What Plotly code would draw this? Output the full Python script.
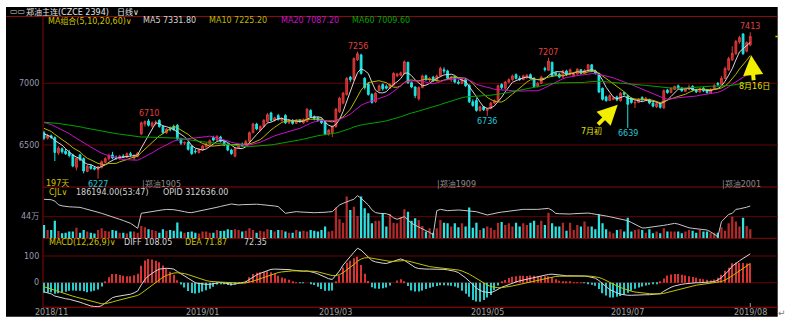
import pandas as pd
import plotly.graph_objects as go

W, H = 786, 326

# ---- daily bars, 郑油主连 (CZCE 2394) ----
bar_open = [
    6600, 6555, 6575, 6560, 6435, 6470, 6450, 6440, 6420, 6320,
    6420, 6390, 6285, 6330, 6315, 6300, 6320, 6360, 6390, 6420,
    6400, 6390, 6410, 6400, 6430, 6395, 6410, 6590, 6670, 6695,
    6655, 6680, 6700, 6650, 6600, 6630, 6650, 6660, 6550, 6515,
    6520, 6490, 6450, 6440, 6460, 6485, 6505, 6560, 6540, 6565,
    6530, 6505, 6460, 6410, 6480, 6500, 6500, 6530, 6600, 6670,
    6620, 6650, 6690, 6760, 6700, 6740, 6700, 6740, 6680, 6700,
    6675, 6700, 6680, 6690, 6780, 6730, 6720, 6705, 6690, 6590,
    6600, 6650, 6770, 6840, 6910, 7050, 7030, 7190, 7230, 7040,
    6995, 6910, 6850, 6940, 6990, 6975, 6960, 6985, 7060, 7065,
    7080, 7170, 7005, 6970, 6875, 6965, 7060, 7030, 7050, 7020,
    7060, 7110, 7100, 7030, 7050, 7010, 7000, 7030, 6985, 6850,
    6860, 6780, 6810, 6780, 6795, 6840, 6860, 6990, 6960, 7010,
    7030, 7070, 7040, 7030, 7045, 7070, 7040, 6975, 7000, 7120,
    7105, 7170, 7085, 7075, 7050, 7100, 7070, 7060, 7075, 7110,
    7080, 7100, 7150, 7100, 7080, 6960, 6890, 6860, 6870, 6890,
    6860, 6925, 6900, 6880, 6840, 6845, 6885, 6860, 6870, 6840,
    6810, 6835, 6800, 6945, 6925, 6950, 6980, 6960, 6935, 6950,
    6975, 6950, 6930, 6960, 6945, 6920, 6950, 7000, 6990, 7040,
    7110, 7190, 7240, 7335, 7400, 7260, 7310,
]
bar_high = [
    6615, 6590, 6585, 6570, 6490, 6480, 6470, 6460, 6430, 6400,
    6430, 6400, 6340, 6345, 6330, 6330, 6375, 6400, 6430, 6445,
    6415, 6420, 6425, 6440, 6445, 6425, 6445, 6690, 6700, 6710,
    6690, 6700, 6708, 6660, 6640, 6650, 6665, 6670, 6560, 6530,
    6530, 6500, 6470, 6470, 6500, 6515, 6545, 6575, 6580, 6575,
    6540, 6515, 6470, 6480, 6510, 6520, 6540, 6610, 6680, 6680,
    6660, 6710, 6760, 6770, 6730, 6750, 6725, 6750, 6710, 6710,
    6710, 6710, 6715, 6800, 6790, 6740, 6730, 6715, 6700, 6630,
    6660, 6800, 6890, 6930, 7050, 7060, 7210, 7256, 7240, 7050,
    7010, 6920, 6930, 6990, 7000, 6990, 7000, 7090, 7085, 7095,
    7185, 7175, 7015, 6975, 6975, 7070, 7070, 7050, 7060, 7070,
    7135, 7130, 7110, 7060, 7060, 7030, 7040, 7040, 6990, 6870,
    6880, 6820, 6815, 6800, 6850, 6870, 6990, 7000, 7020, 7040,
    7070, 7080, 7060, 7070, 7075, 7080, 7050, 7010, 7060, 7135,
    7207, 7175, 7090, 7085, 7110, 7110, 7120, 7090, 7120, 7115,
    7115, 7155, 7155, 7110, 7085, 6965, 6900, 6910, 6895, 6900,
    6930, 6930, 6910, 6885, 6870, 6880, 6895, 6890, 6875, 6850,
    6845, 6840, 6950, 6955, 6965, 6980, 6990, 6970, 6965, 6990,
    6985, 6955, 6965, 6970, 6955, 6960, 6995, 7010, 7060, 7135,
    7215, 7300, 7350, 7385, 7405, 7340, 7413,
]
bar_low = [
    6540, 6545, 6548, 6370, 6420, 6430, 6420, 6400, 6320, 6295,
    6370, 6270, 6280, 6300, 6295, 6227, 6310, 6350, 6375, 6385,
    6380, 6380, 6395, 6395, 6405, 6375, 6400, 6580, 6650, 6650,
    6640, 6660, 6640, 6590, 6590, 6610, 6615, 6540, 6500, 6500,
    6455, 6420, 6430, 6430, 6455, 6480, 6500, 6530, 6535, 6520,
    6490, 6450, 6420, 6400, 6470, 6485, 6495, 6520, 6595, 6620,
    6610, 6640, 6680, 6690, 6690, 6700, 6690, 6670, 6670, 6665,
    6670, 6680, 6670, 6685, 6720, 6700, 6690, 6670, 6580, 6575,
    6565, 6640, 6760, 6830, 6900, 7010, 7020, 7180, 7070, 6950,
    6900, 6835, 6840, 6935, 6940, 6950, 6955, 6980, 7050, 7060,
    7070, 6995, 6960, 6880, 6860, 6960, 7020, 7010, 7010, 7015,
    7050, 7080, 7030, 7010, 7000, 6990, 6995, 6970, 6840, 6810,
    6770, 6770, 6775, 6736, 6790, 6830, 6850, 6950, 6950, 7000,
    7020, 7030, 7020, 7025, 7040, 7035, 6965, 6965, 6995, 7095,
    7100, 7050, 7060, 7040, 7045, 7060, 7065, 7055, 7070, 7070,
    7075, 7095, 7090, 7070, 6920, 6860, 6850, 6855, 6865, 6855,
    6850, 6900, 6639, 6835, 6800, 6840, 6860, 6855, 6830, 6805,
    6800, 6795, 6795, 6915, 6920, 6945, 6950, 6930, 6930, 6945,
    6935, 6920, 6925, 6930, 6915, 6915, 6945, 6975, 6985, 7035,
    7100, 7180, 7230, 7320, 7230, 7250, 7300,
]
bar_close = [
    6555, 6575, 6560, 6440, 6475, 6445, 6430, 6415, 6330, 6395,
    6380, 6290, 6330, 6310, 6305, 6325, 6365, 6390, 6415, 6395,
    6390, 6410, 6400, 6430, 6420, 6415, 6435, 6680, 6690, 6660,
    6680, 6685, 6650, 6600, 6630, 6625, 6625, 6550, 6515, 6520,
    6465, 6430, 6445, 6465, 6490, 6510, 6535, 6540, 6570, 6530,
    6500, 6460, 6430, 6470, 6500, 6495, 6530, 6600, 6670, 6630,
    6650, 6700, 6745, 6700, 6720, 6705, 6715, 6680, 6700, 6675,
    6700, 6690, 6705, 6790, 6730, 6715, 6700, 6680, 6590, 6620,
    6650, 6790, 6880, 6920, 7040, 7030, 7200, 7240, 7080, 6965,
    6910, 6845, 6920, 6980, 6955, 6960, 6990, 7080, 7075, 7085,
    7175, 7005, 6970, 6900, 6965, 7060, 7030, 7040, 7020, 7060,
    7120, 7100, 7040, 7050, 7010, 7000, 7030, 6980, 6850, 6820,
    6780, 6810, 6785, 6790, 6840, 6860, 6980, 6965, 7010, 7030,
    7060, 7040, 7030, 7060, 7065, 7040, 6975, 7000, 7050, 7110,
    7180, 7060, 7070, 7050, 7100, 7070, 7110, 7075, 7115, 7080,
    7105, 7150, 7100, 7080, 6930, 6870, 6860, 6900, 6880, 6865,
    6920, 6910, 6830, 6845, 6845, 6870, 6865, 6880, 6840, 6815,
    6835, 6805, 6940, 6925, 6960, 6975, 6962, 6940, 6955, 6970,
    6945, 6930, 6955, 6940, 6925, 6950, 6982, 6990, 7040, 7120,
    7200, 7243, 7340, 7370, 7240, 7330, 7379,
]
# closes of the sessions before the first bar; they feed the moving averages
close_earlier = [
    6650, 6665, 6680, 6690, 6672, 6660, 6648, 6655, 6670, 6685,
    6700, 6688, 6675, 6662, 6670, 6681, 6694, 6702, 6690, 6678,
    6665, 6672, 6688, 6700, 6712, 6705, 6696, 6684, 6690, 6702,
    6715, 6708, 6695, 6683, 6676, 6688, 6699, 6710, 6722, 6718,
    6725, 6738, 6745, 6732, 6720, 6728, 6740, 6735, 6722, 6715,
    6700, 6690, 6676, 6668, 6666, 6640, 6615, 6590, 6552,
]
# 成交量 (contracts)
volume = [
    272000, 170000, 170000, 360000, 150000, 102000, 115000, 136000, 136000, 217000,
    115000, 170000, 136000, 115000, 100000, 170000, 204000, 150000, 136000, 170000,
    156000, 115000, 115000, 100000, 136000, 136000, 115000, 250000, 224000, 183000,
    170000, 150000, 115000, 183000, 156000, 170000, 156000, 320000, 136000, 115000,
    129000, 136000, 115000, 100000, 136000, 136000, 115000, 115000, 170000, 150000,
    156000, 183000, 170000, 183000, 170000, 136000, 156000, 204000, 170000, 115000,
    156000, 136000, 183000, 170000, 136000, 170000, 170000, 136000, 115000, 115000,
    170000, 136000, 156000, 136000, 170000, 156000, 136000, 170000, 238000, 136000,
    156000, 625000, 387000, 319000, 849000, 577000, 645000, 455000, 849000, 611000,
    509000, 306000, 360000, 360000, 509000, 238000, 496000, 319000, 306000, 428000,
    590000, 543000, 360000, 407000, 373000, 251000, 136000, 204000, 115000, 204000,
    373000, 319000, 306000, 238000, 306000, 224000, 306000, 238000, 625000, 217000,
    319000, 170000, 204000, 238000, 217000, 170000, 319000, 333000, 272000, 306000,
    238000, 319000, 238000, 306000, 272000, 319000, 360000, 272000, 360000, 272000,
    523000, 306000, 238000, 238000, 319000, 156000, 319000, 170000, 272000, 238000,
    340000, 238000, 238000, 183000, 489000, 306000, 183000, 136000, 102000, 170000,
    183000, 136000, 421000, 136000, 170000, 183000, 170000, 115000, 183000, 102000,
    136000, 102000, 204000, 136000, 136000, 136000, 136000, 102000, 136000, 170000,
    156000, 115000, 170000, 136000, 136000, 115000, 115000, 115000, 224000, 156000,
    306000, 441000, 340000, 238000, 421000, 251000, 186194,
]
# 持仓量 (OPID)
open_interest = [
    341300, 340800, 339600, 333500, 318000, 313200, 310500, 309200, 308400, 307600,
    306800, 302400, 299100, 295600, 290300, 285800, 281200, 275400, 269800, 264600,
    260100, 255700, 250400, 244900, 238600, 228300, 216900, 281400, 284100, 286800,
    290500, 292800, 294600, 296200, 297900, 298500, 296800, 294100, 292800, 288300,
    285100, 284200, 287600, 290400, 292800, 296200, 300100, 303800, 307000, 310800,
    314900, 318600, 321300, 319200, 317000, 318400, 319600, 320700, 321300, 320200,
    319100, 318000, 317000, 314800, 312600, 310000, 296000, 281400, 283800, 286200,
    288500, 287100, 285600, 284200, 283500, 284000, 284600, 284200, 285700, 287300,
    288500, 302700, 317000, 324100, 331300, 336400, 341300, 357000, 345600, 331300,
    317000, 296000, 284300, 281400, 280500, 279600, 274100, 262000, 255700, 261300,
    267000, 253000, 239000, 230400, 221500, 214300, 207100, 200000, 188600, 292500,
    298200, 295400, 292500, 293700, 295000, 295400, 294300, 292800, 292500, 290400,
    288200, 283500, 278700, 274000, 277300, 282000, 284000, 286400, 288900, 291300,
    292500, 294400, 296300, 298200, 298200, 297500, 298200, 298200, 299600, 301100,
    302500, 293900, 281100, 279600, 278200, 276800, 278200, 279600, 281100, 282500,
    284000, 282400, 280000, 278200, 275300, 272500, 269700, 266700, 263700, 260600,
    257800, 255400, 249800, 242300, 235000, 227500, 218600, 219200, 220800, 222600,
    224000, 226900, 229800, 232500, 235600, 238300, 235200, 229500, 224700, 219400,
    217000, 215500, 214000, 212000, 209800, 202000, 191500, 181300, 245400, 263000,
    276500, 281100, 298200, 300500, 302500, 307400, 312636,
]
# MACD(12,26,9)
macd_diff = [
    -34, -38, -42, -50, -54, -57, -60, -62, -65, -69,
    -73, -78, -84, -87, -89, -90, -86, -77, -66, -56,
    -52, -50, -48, -46, -43, -38, -31, -8, 12, 26,
    36, 44, 51, 53, 54, 53, 51, 42, 33, 25,
    15, 6, 0, -3, -5, -6, -6, -4, -1, 1,
    -1, -4, -6, -5, -3, -1, 3, 12, 22, 29,
    35, 41, 47, 50, 51, 51, 50, 50, 49, 47,
    45, 44, 43, 44, 42, 38, 33, 26, 19, 15,
    12, 28, 44, 66, 84, 98, 114, 129, 122, 110,
    97, 83, 78, 75, 73, 72, 75, 80, 85, 89,
    84, 75, 63, 57, 53, 51, 51, 51, 51, 51,
    51, 50, 48, 46, 43, 38, 29, 18, 6, -8,
    -20, -29, -34, -36, -37, -32, -24, -17, -12, -6,
    -1, 3, 7, 10, 13, 17, 20, 22, 25, 28,
    31, 32, 30, 28, 26, 26, 26, 26, 26, 26,
    25, 23, 20, 17, 8, -5, -15, -26, -33, -38,
    -43, -46, -47, -47, -46, -46, -46, -45, -45, -44,
    -44, -41, -32, -23, -17, -12, -8, -6, -4, -2,
    -1, 0, 0, 1, 1, 1, 4, 10, 19, 32,
    45, 62, 73, 82, 91, 99, 108.05,
]
macd_dea = [
    -15, -19.6, -24.1, -29.3, -34.2, -38.8, -43.0, -46.8, -50.4, -54.1,
    -57.9, -61.9, -66.3, -70.4, -74.1, -77.3, -79.0, -78.6, -76.1, -72.1,
    -68.1, -64.5, -61.2, -58.2, -55.2, -51.8, -47.6, -39.7, -29.4, -18.3,
    -7.4, 2.9, 12.5, 20.6, 27.3, 32.4, 36.1, 37.3, 36.4, 34.1,
    30.3, 25.4, 20.3, 15.6, 11.5, 8.0, 5.2, 3.4, 2.5, 2.2,
    1.6, 0.5, -0.8, -1.6, -1.9, -1.7, -0.8, 1.8, 5.8, 10.4,
    15.3, 20.4, 25.7, 30.6, 34.7, 38.0, 40.4, 42.3, 43.6, 44.3,
    44.4, 44.3, 44.0, 44.0, 43.6, 42.5, 40.6, 37.7, 34.0, 30.2,
    26.6, 26.9, 30.3, 37.4, 46.7, 57.0, 68.4, 80.5, 88.8, 93.0,
    93.8, 91.6, 88.9, 86.1, 83.5, 81.2, 80.0, 80.0, 81.0, 82.6,
    82.9, 81.3, 77.6, 73.5, 69.4, 65.7, 62.8, 60.4, 58.5, 57.0,
    55.8, 54.6, 53.3, 51.8, 50.0, 47.6, 43.9, 38.7, 32.2, 24.2,
    15.4, 6.5, -1.6, -8.5, -14.2, -17.8, -19.0, -18.6, -17.3, -15.0,
    -12.2, -9.2, -6.0, -2.8, 0.4, 3.7, 7.0, 10.0, 13.0, 16.0,
    19.0, 21.6, 23.3, 24.2, 24.6, 24.9, 25.1, 25.3, 25.4, 25.5,
    25.4, 24.9, 23.9, 22.5, 19.6, 14.7, 8.8, 1.8, -5.2, -11.8,
    -18.0, -23.6, -28.3, -32.0, -34.8, -37.0, -38.8, -40.0, -41.0, -41.6,
    -42.1, -41.9, -39.9, -36.5, -32.6, -28.5, -24.4, -20.7, -17.4, -14.3,
    -11.6, -9.3, -7.4, -5.7, -4.4, -3.3, -1.8, 0.6, 4.3, 9.8,
    16.8, 25.8, 35.2, 44.6, 53.9, 62.9, 71.874,
]

date_labels = ["2018/11", "2019/01", "2019/03", "2019/05", "2019/07", "2019/08"]
date_label_bars = [2, 44, 81, 123, 162, 196]
contract_names = ["郑油1905", "郑油1909", "郑油2001"]
contract_start_bars = [27, 109, 188]
high_mark_bars = [29, 87, 140, 196]
low_mark_bars = [15, 123, 162]
price_ticks = [7000, 6500]
volume_tick, volume_tick_text = 440000, "44万"
macd_ticks = [100, 0]
ma_periods = [5, 10, 20, 60]

n_bars = len(bar_close)
for series in (bar_open, bar_high, bar_low, volume, open_interest, macd_diff, macd_dea):
    assert len(series) == n_bars, len(series)
bars = list(range(n_bars))

closes_all = pd.Series(close_earlier + bar_close, dtype=float)
ma_lines = {p: closes_all.rolling(p).mean().iloc[len(close_earlier):].tolist() for p in ma_periods}
macd_bar = [2 * (d - e) for d, e in zip(macd_diff, macd_dea)]

# ---- colours / fonts ----
UP_LINE, UP_FILL, DOWN = "#e03a3a", "#b72626", "#1ee4e4"
VOL_UP, VOL_DOWN = "#b32a2a", "#2fe2e2"
GRID, FRAME = "#640606", "#8a0a0a"
AXIS_TXT = "#9a9ab0"
YELLOW = "#d0c400"
MA_COLORS = ["#d6d6d6", "#b9b900", "#cc10cc", "#00a400"]
FONT = "DejaVu Sans, Noto Sans CJK SC, sans-serif"


def px(x):
    return x / W


def py(y):
    return 1 - y / H


fig = go.Figure()

fig.add_trace(go.Candlestick(
    x=bars, open=bar_open, high=bar_high, low=bar_low, close=bar_close,
    increasing=dict(line=dict(color=UP_LINE, width=1), fillcolor=UP_FILL),
    decreasing=dict(line=dict(color=DOWN, width=1), fillcolor=DOWN),
    whiskerwidth=0, hoverinfo="skip", xaxis="x", yaxis="y"))
for p, col in zip(ma_periods, MA_COLORS):
    fig.add_trace(go.Scatter(x=bars, y=ma_lines[p], mode="lines",
                             line=dict(color=col, width=1), hoverinfo="skip",
                             xaxis="x", yaxis="y"))

vol_colors = [VOL_UP if c >= o else VOL_DOWN for o, c in zip(bar_open, bar_close)]
fig.add_trace(go.Bar(x=bars, y=volume, width=0.62,
                     marker=dict(color=vol_colors, line=dict(width=0)),
                     hoverinfo="skip", xaxis="x", yaxis="y2"))
fig.add_trace(go.Scatter(x=bars, y=open_interest, mode="lines",
                         line=dict(color="#c6c6c6", width=1), hoverinfo="skip",
                         xaxis="x", yaxis="y3"))

hist_colors = ["#d83232" if v >= 0 else "#22cccc" for v in macd_bar]
fig.add_trace(go.Bar(x=bars, y=macd_bar, width=0.32,
                     marker=dict(color=hist_colors, line=dict(width=0)),
                     hoverinfo="skip", xaxis="x", yaxis="y4"))
fig.add_trace(go.Scatter(x=bars, y=macd_diff, mode="lines",
                         line=dict(color="#d8d8d8", width=1), hoverinfo="skip",
                         xaxis="x", yaxis="y4"))
fig.add_trace(go.Scatter(x=bars, y=macd_dea, mode="lines",
                         line=dict(color="#c2c200", width=1), hoverinfo="skip",
                         xaxis="x", yaxis="y4"))

# ---- frame, separators and grid ----
L, R = 43, 777.7
shapes = [
    dict(type="rect", xref="paper", yref="paper", x0=px(6), x1=px(R), y0=py(316.7), y1=py(7),
         fillcolor="black", line=dict(width=0), layer="below"),
    dict(type="line", xref="paper", yref="paper", x0=px(6), x1=px(R), y0=py(16.5), y1=py(16.5),
         line=dict(color=FRAME, width=1), layer="below"),
    dict(type="line", xref="paper", yref="paper", x0=px(L), x1=px(L), y0=py(16.5), y1=py(307.3),
         line=dict(color=FRAME, width=1), layer="below"),
]
for yy, col in ((187, FRAME), (238.3, FRAME), (307.3, "#a80000")):
    shapes.append(dict(type="line", xref="paper", yref="paper", x0=px(L), x1=px(R),
                       y0=py(yy), y1=py(yy), line=dict(color=col, width=1), layer="below"))
for v in price_ticks:
    shapes.append(dict(type="line", xref="paper", yref="y", x0=px(L), x1=px(R), y0=v, y1=v,
                       line=dict(color=GRID, width=1), layer="below"))
shapes.append(dict(type="line", xref="paper", yref="y2", x0=px(L), x1=px(R),
                   y0=volume_tick, y1=volume_tick, line=dict(color=GRID, width=1), layer="below"))
for v in macd_ticks:
    shapes.append(dict(type="line", xref="paper", yref="y4", x0=px(L), x1=px(R), y0=v, y1=v,
                       line=dict(color=GRID, width=1), layer="below"))
# last-price marker on the right edge and the final date tick
shapes.append(dict(type="line", xref="paper", yref="y", x0=px(775.4), x1=px(778.4),
                   y0=bar_close[-1], y1=bar_close[-1], line=dict(color=YELLOW, width=1.5)))
shapes.append(dict(type="line", xref="x", yref="paper", x0=date_label_bars[-1], x1=date_label_bars[-1],
                   y0=py(307), y1=py(303), line=dict(color="#9a9a9a", width=1)))

ann = []


def text(x, y, s, color, xanchor="left", xref="paper", yref="paper", size=8, **kw):
    ann.append(dict(x=x, y=y, xref=xref, yref=yref, text=s, showarrow=False,
                    xanchor=xanchor, yanchor=kw.pop("yanchor", "middle"),
                    font=dict(family=FONT, size=size, color=color), **kw))


# header
text(px(8), py(11.5), "▭▭", "#cfcfcf")
text(px(24), py(11.5), "郑油主连(CZCE 2394)", "#e4e4e4")
text(px(115), py(11.5), "日线∨", "#e4e4e4")

# moving-average legend
text(px(46), py(20.7), "MA组合(5,10,20,60)∨", YELLOW)
for p, col, x0 in zip(ma_periods, MA_COLORS, (141, 207, 279, 350)):
    text(px(x0), py(20.7), f"MA{p} {ma_lines[p][-1]:.2f}", col)

# price axis labels
for v in price_ticks:
    text(px(41), v, str(v), AXIS_TXT, xanchor="right", yref="y")

# swing high / low marks
for b in high_mark_bars:
    text(b, bar_high[b], str(bar_high[b]), "#e04040", xanchor="center", xref="x", yref="y",
         yanchor="bottom", yshift=-1)
for b in low_mark_bars:
    text(b, bar_low[b], str(bar_low[b]), "#22c8d8", xanchor="center", xref="x", yref="y",
         yanchor="top", yshift=1)

text(px(44), py(183.3), f"{n_bars}天", YELLOW)
for b, name in zip(contract_start_bars, contract_names):
    text(b - 0.4, py(183.5), "|" + name, "#8c8c8c", xref="x")

# notes with arrows
arrow_style = dict(showarrow=True, arrowhead=2, arrowsize=1, arrowwidth=4, arrowcolor="#f2ee00")
ann.append(dict(x=160, y=bar_low[160], xref="x", yref="y", ax=-29, ay=29, text="7月初",
                font=dict(family=FONT, size=8, color="#e6e000"), standoff=4, **arrow_style))
ann.append(dict(x=196, y=bar_low[196], xref="x", yref="y", ax=4, ay=40, text="8月16日",
                font=dict(family=FONT, size=8, color="#e6e000"), standoff=9, **arrow_style))

# volume / open-interest panel
text(px(47), py(192.7), "CJL∨", YELLOW)
text(px(74), py(192.7), f"{volume[-1]:.2f}(53:47)", "#d4d4d4")
text(px(161), py(192.7), f"OPID {open_interest[-1]:.2f}", "#d4d4d4")
text(px(41), volume_tick, volume_tick_text, AXIS_TXT, xanchor="right", yref="y2")

# MACD panel
text(px(47), py(242.3), "MACD(12,26,9)∨", YELLOW)
text(px(122), py(242.3), f"DIFF {macd_diff[-1]:.2f}", "#d8d8d8")
text(px(183), py(242.3), f"DEA {macd_dea[-1]:.2f}", YELLOW)
text(px(242), py(242.3), f"{macd_bar[-1]:.2f}", "#d0d0d0")
for v in macd_ticks:
    text(px(41), v, str(v), AXIS_TXT, xanchor="right", yref="y4")

# dates
for b, s in zip(date_label_bars, date_labels):
    text(b, py(312.7), s, "#a2a2a2", xanchor="center", xref="x")

text(px(782), py(313), "↵", "#7a7a7a", xanchor="center", size=9)

fig.update_layout(
    width=W, height=H, margin=dict(l=0, r=0, t=0, b=0),
    paper_bgcolor="white", plot_bgcolor="rgba(0,0,0,0)",
    showlegend=False, hovermode=False, barmode="overlay", boxgap=0.3,
    font=dict(family=FONT, size=8),
    xaxis=dict(domain=[px(L), px(R)], range=[-0.28, 203.61], visible=False,
               rangeslider=dict(visible=False), fixedrange=True),
    yaxis=dict(domain=[py(187), py(17)], range=[6160, 7537], visible=False, anchor="x"),
    yaxis2=dict(domain=[py(238.3), py(187)], range=[0, 1045000], visible=False, anchor="x"),
    yaxis3=dict(overlaying="y2", range=[174400, 393900], visible=False, anchor="x"),
    yaxis4=dict(domain=[py(307.3), py(238.3)], range=[-92.1, 166.3], visible=False, anchor="x"),
    shapes=shapes, annotations=ann,
)

fig.write_html("out.html")
